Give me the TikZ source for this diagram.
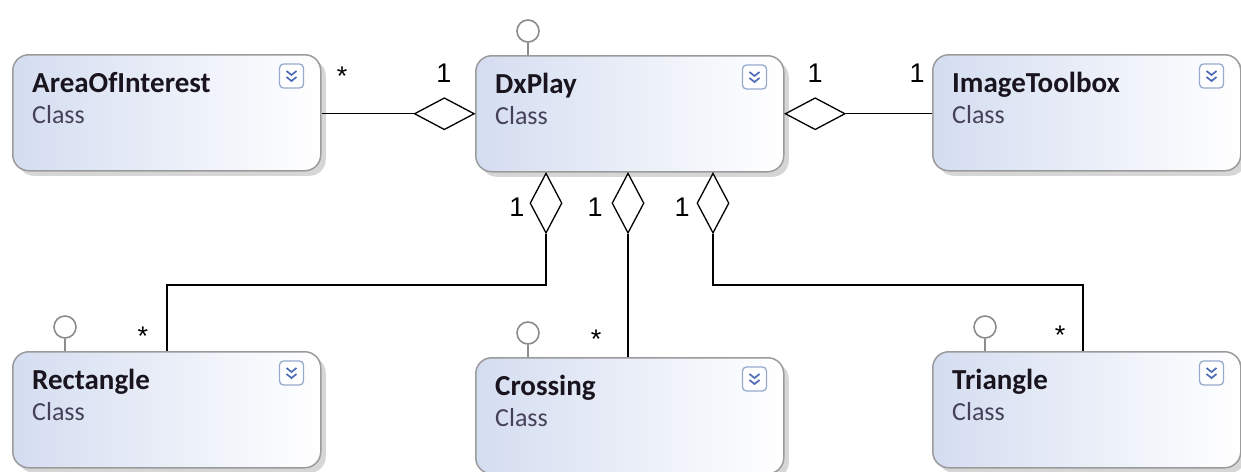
\documentclass[tikz,border=0pt]{standalone}
\usepackage{fontspec}
\newfontfamily\boxfont{Carlito}
\newfontfamily\numfont{Liberation Sans}
\usetikzlibrary{calc,shapes.geometric,shadows}
\definecolor{boxborder}{RGB}{155,155,155}
\definecolor{boxleft}{RGB}{212,221,240}
\definecolor{iconborder}{RGB}{150,170,205}
\definecolor{iconfg}{RGB}{75,105,180}
\definecolor{titletxt}{RGB}{25,20,30}
\definecolor{classtxt}{RGB}{70,65,90}
\definecolor{lolli}{RGB}{140,140,140}
\begin{document}
\begin{tikzpicture}[x=1pt,y=-1pt,
  classbox/.style={draw=boxborder, line width=1.5pt, rounded corners=16pt,
    left color=boxleft, right color=white, minimum width=308pt, minimum height=116pt,
    inner sep=0pt, anchor=north west,
    drop shadow={shadow xshift=5pt, shadow yshift=-5pt, fill=black, opacity=0.16}},
  titletext/.style={anchor=base west, inner sep=0pt, font=\boxfont\bfseries\fontsize{29}{32}\selectfont, text=titletxt},
  classtext/.style={anchor=base west, inner sep=0pt, font=\boxfont\fontsize{26}{30}\selectfont, text=classtxt},
  lollipop/.style={circle, draw=lolli, line width=1.6pt, fill=white, minimum size=22pt, inner sep=0pt},
  lollistem/.style={draw=lolli, line width=1.6pt},
  conn/.style={draw=black, line width=1.4pt},
  aggrv/.style={diamond, draw=black, line width=1.3pt, fill=white, inner sep=0pt, minimum width=32pt, minimum height=60pt},
  aggrh/.style={diamond, draw=black, line width=1.3pt, fill=white, inner sep=0pt, minimum width=60pt, minimum height=32pt},
  mult/.style={inner sep=0pt, font=\numfont\fontsize{27}{30}\selectfont},
  expander/.pic={
    \node[draw=iconborder, line width=1.3pt, rounded corners=4pt, minimum size=24pt, inner sep=0pt, fill=white] (-b) {};
    \draw[iconfg, line width=1.7pt] (-5,-5) -- (0,-1) -- (5,-5) (-5,1) -- (0,5) -- (5,1);
  }
]
\useasboundingbox (0,0) rectangle (1241,471);

% boxes
\node[classbox] (aoi) at (12,54) {};
\node[classbox] (dx) at (475,55) {};
\node[classbox] (it) at (932,54) {};
\node[classbox] (rc) at (12,351) {};
\node[classbox] (cr) at (475,357) {};
\node[classbox] (tr) at (932,351) {};

% texts and expanders
\foreach \b/\t in {aoi/AreaOfInterest, dx/DxPlay, it/ImageToolbox, rc/Rectangle, cr/Crossing, tr/Triangle}{
  \node[titletext] (\b-t) at ($(\b.north west)+(20,38)$) {\t};
  \node[classtext] (\b-c) at ($(\b.north west)+(20,69)$) {Class};
  \pic (\b-x) at ($(\b.north east)+(-30,22)$) {expander};
}

% lollipops
\foreach \b in {dx, rc, cr, tr}{
  \node[lollipop] (\b-l) at ($(\b.north west)+(53,-24)$) {};
  \draw[lollistem] (\b-l.south) -- (\b-l.south |- \b.north);
}

% aggregation diamonds
\node[aggrh, anchor=east] (dl) at (dx.west) {};
\node[aggrh, anchor=west] (dr) at (dx.east) {};
\node[aggrv, anchor=north] (d1) at ($(dx.south west)+(71,0)$) {};
\node[aggrv, anchor=north] (d2) at ($(dx.south west)+(153,0)$) {};
\node[aggrv, anchor=north] (d3) at ($(dx.south west)+(238,0)$) {};

% connectors
\coordinate (lvl) at (0,285);
\coordinate (rin) at ($(rc.north west)+(155,0)$);
\coordinate (tin) at ($(tr.north west)+(151,0)$);
\draw[conn] (dl.west) -- (dl.west -| aoi.east);
\draw[conn] (dr.east) -- (dr.east -| it.west);
\draw[conn] (d1.south) -- (d1.south |- lvl) -| (rin);
\draw[conn] (d2.south) -- (d2.south |- cr.north);
\draw[conn] (d3.south) -- (d3.south |- lvl) -| (tin);

% multiplicities
\node[mult] (m1) at (444,73) {1};
\node[mult] (m2) at (815,73) {1};
\node[mult] (m3) at (917,73) {1};
\node[mult] (m4) at (517,207) {1};
\node[mult] (m5) at (595,207) {1};
\node[mult] (m6) at (682,207) {1};
\node[mult, anchor=north] (s1) at (342,67) {*};
\node[mult, anchor=north] (s2) at (143,327) {*};
\node[mult, anchor=north] (s3) at (596,330) {*};
\node[mult, anchor=north] (s4) at (1060,326) {*};
\end{tikzpicture}
\end{document}
